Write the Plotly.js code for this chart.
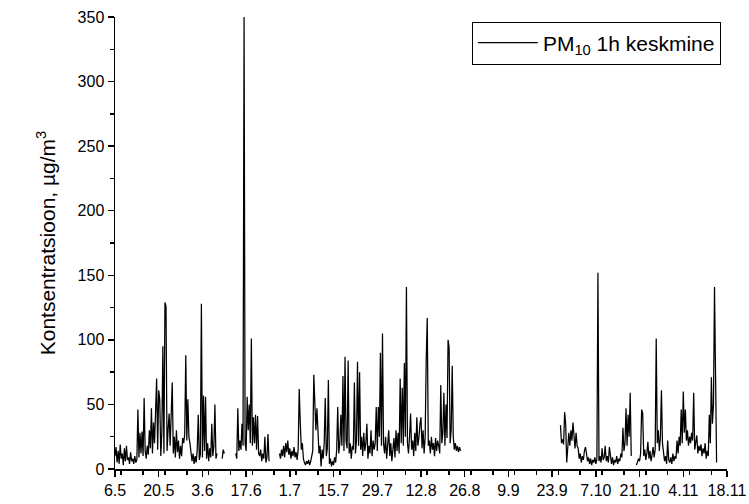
<!DOCTYPE html>
<html>
<head>
<meta charset="utf-8">
<script src="https://cdn.plot.ly/plotly-3.0.1.min.js"></script>
<style>html,body{margin:0;padding:0;background:#fff;}#chart{width:749px;height:504px;}</style>
</head>
<body>
<div id="chart"></div>
<script>
// PM10 1h mean, sampled every 8 hours; segments separated by gaps without data
const stepHours = 8;
const segmentStarts = ["2011-05-06 00:00", "2011-06-09 08:00", "2011-06-13 16:00", "2011-06-27 16:00", "2011-09-25 16:00", "2011-10-20 00:00"];
const segA = [10,17,5,14,4,19,8,12,3,16,6,18,7,9,4,13,6,8,4,10,5,7,
  46,9,28,12,29,10,55,14,8,18,11,30,16,47,12,36,20,42,70,15,61,54,10,28,95,12,129,126,
  14,30,43,18,40,67,12,25,9,30,13,22,8,18,10,24,20,27,88,22,54,25,20,14,6,12,4,10,5,15,
  42,7,11,128,9,57,14,56,8,20,6,16,9,35,10,18,50,8,12];
const segA2 = [8,15,12];
const segB = [12,8,47,14,22,15,35,18,350,20,14,56,30,50,20,101,18,40,20,42,15,41,12,10,15,6,12,8,25,5,9,27,6];
const segC = [12,8,15,10,18,9,20,13,22,11,16,8,14,10,17,9,13,7,15,
  62,36,15,20,8,5,3,6,4,7,3,6,10,14,73,53,30,47,20,12,18,2,15,8,20,55,10,16,69,
  4,8,2,6,3,9,5,15,48,12,20,42,18,72,14,87,22,16,84,12,20,8,18,15,67,12,22,83,18,75,
  15,25,10,28,14,20,35,8,18,12,30,10,22,15,20,48,14,48,25,90,18,105,20,12,25,8,18,30,
  10,20,6,15,24,9,30,14,28,12,70,20,63,18,82,25,141,20,12,25,43,15,22,10,28,14,40,18,
  24,35,40,16,30,12,25,84,117,18,22,12,25,15,20,10,24,14,22,18,12,65,20,28,59,18,50,24,
  100,94,20,30,80,25,15,20,14,18,13,17,14];
const segD = [34,20,23,19,44,35,5,20,28,18,30,22,36,26,16,28,18,16,8,12,5,10,7,14,17,12,
  6,9,4,8,3,7,5,9,4,8,152,6,10,5,16,7,9,18,6,10,5,17,8,4,9,3,7,5,10,4,8,6,12,9,32,14,20,
  47,18,42,25,59,10];
const segE = [3,5,8,6,12,46,43,10,15,7,12,21,8,14,6,11,17,9,15,101,20,30,14,25,61,20,12,
  6,10,4,22,7,5,9,4,12,6,10,8,22,12,25,18,46,20,60,28,46,22,30,18,25,20,28,22,59,15,20,26,
  12,18,14,19,10,16,12,20,8,14,10,42,20,71,35,50,141,64,5];
const segments = [segA, segA2, segB, segC, segD, segE];
const seriesName = "PM<sub>10</sub> 1h keskmine";
const yTitle = "Kontsentratsioon, µg/m<sup>3</sup>";
const xRange = ["2011-05-06", "2011-11-18"];

function fmt(d){
  const p = n => String(n).padStart(2,"0");
  return d.getUTCFullYear()+"-"+p(d.getUTCMonth()+1)+"-"+p(d.getUTCDate())+" "+p(d.getUTCHours())+":00";
}
const xs = [], ys = [];
segments.forEach((seg, i) => {
  const t0 = Date.parse(segmentStarts[i].replace(" ", "T") + ":00Z");
  seg.forEach((v, k) => { xs.push(fmt(new Date(t0 + k*stepHours*3600000))); ys.push(v); });
  if (i < segments.length - 1) { xs.push(null); ys.push(null); }
});

const DAY = 86400000;
const font = {family: "Liberation Sans, Arial, sans-serif", color: "#000"};
const trace = {x: xs, y: ys, type: "scatter", mode: "lines", name: seriesName,
  line: {color: "#000", width: 1.25}, connectgaps: false, showlegend: true};
const layout = {
  width: 749, height: 504,
  margin: {l: 115, r: 22, t: 17, b: 35},
  paper_bgcolor: "#fff", plot_bgcolor: "#fff",
  font: Object.assign({size: 16}, font),
  showlegend: true,
  legend: {x: 0.990, y: 0.99, xanchor: "right", yanchor: "top",
    bordercolor: "#000", borderwidth: 1, bgcolor: "#fff",
    font: Object.assign({size: 21}, font), itemwidth: 60, tracegroupgap: 0},
  xaxis: {type: "date", range: xRange, tick0: "2011-05-06", dtick: 14*DAY,
    tickformat: "%-d.%-m", ticks: "outside", ticklen: 6, tickwidth: 1.5, tickcolor: "#000",
    showline: true, linecolor: "#000", linewidth: 1.5, showgrid: false, zeroline: false,
    tickfont: Object.assign({size: 16}, font),
    minor: {dtick: 7*DAY, ticks: "outside", ticklen: 4, tickwidth: 1.5, tickcolor: "#000", showgrid: false}},
  yaxis: {range: [0, 350], dtick: 50, ticks: "outside", ticklen: 6, tickwidth: 1.5, tickcolor: "#000",
    showline: true, linecolor: "#000", linewidth: 1.5, showgrid: false, zeroline: false,
    tickfont: Object.assign({size: 16}, font),
    minor: {dtick: 25, ticks: "outside", ticklen: 4, tickwidth: 1.5, tickcolor: "#000", showgrid: false},
    title: {text: yTitle, font: Object.assign({size: 21}, font), standoff: 16}}
};
Plotly.newPlot("chart", [trace], layout, {displayModeBar: false, staticPlot: true});
</script>
</body>
</html>
